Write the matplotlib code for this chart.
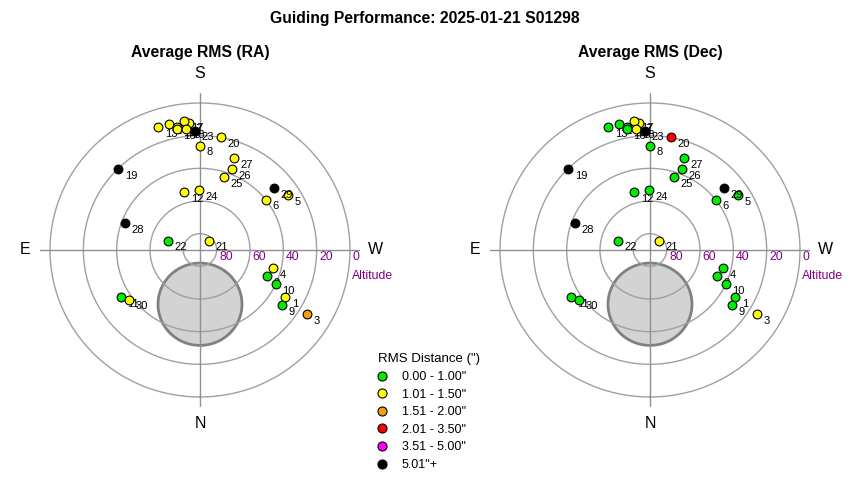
import numpy as np
import matplotlib.pyplot as plt
from matplotlib.lines import Line2D
from matplotlib.patches import Circle

plt.rcParams['font.family'] = ['Liberation Sans', 'DejaVu Sans']

# guiding samples: number, azimuth (deg, N=0, E=90), altitude (deg)
point_ids = list(range(1, 31))
azimuth = [299.5, 291.7, 301.4, 284.3, 237.7, 232.1, 175.3, 180.0, 304.4, 294.7,
           58.6, 165.1, 161.6, 166.4, 169.5, 169.3, 173.2, 173.4, 135.3, 190.2,
           224.4, 106.7, 177.6, 179.3, 198.1, 201.1, 200.1, 109.9, 229.6, 54.2]
altitude = [31.2, 46.5, 14.5, 44.6, 27.3, 39.7, 11.8, 26.2, 30.1, 39.8,
            34.4, 53.3, 10.8, 10.8, 13.2, 14.8, 10.5, 15.4, 20.3, 19.9,
            82.0, 70.1, 16.9, 53.3, 43.1, 37.1, 30.2, 42.1, 31.7, 37.7]

# rms class per point (index into bin_labels)
rms_bin_ra = [1, 0, 2, 1, 1, 1, 1, 1, 0, 0,
              0, 1, 1, 1, 1, 1, 1, 1, 5, 1,
              1, 0, 5, 1, 1, 1, 1, 5, 5, 1]
rms_bin_dec = [0, 0, 1, 0, 0, 0, 1, 0, 0, 0,
               0, 0, 0, 0, 0, 0, 1, 1, 5, 3,
               1, 0, 5, 0, 0, 0, 0, 5, 5, 0]

bin_labels = ['0.00 - 1.00"', '1.01 - 1.50"', '1.51 - 2.00"',
              '2.01 - 3.50"', '3.51 - 5.00"', '5.01"+']
bin_colors = ['#00ee00', '#ffff00', '#f5a000', '#ff0000', '#ff00ff', '#000000']

ring_alts = [0, 20, 40, 60, 80]

# moon position / size (deg)
moon_az = 0.0
moon_alt = 56.8
moon_radius = 25.2

W, H = 850, 480
rmax = 96
px_per_deg = 150 / 90
ax_w = 2 * rmax * px_per_deg
ax_h = ax_w * 0.98

fig = plt.figure(figsize=(W / 100, H / 100), dpi=100)
fig.text(0.5, 1 - 18 / H, 'Guiding Performance: 2025-01-21 S01298',
         ha='center', va='center', fontsize=11.3, fontweight='bold')

panels = [(200, 'Average RMS (RA)', rms_bin_ra),
          (650, 'Average RMS (Dec)', rms_bin_dec)]

for cx, title, bins in panels:
    ax = fig.add_axes([(cx - ax_w / 2) / W, (H - 250 - ax_h / 2) / H, ax_w / W, ax_h / H],
                      projection='polar')
    ax.set_aspect('auto')
    ax.set_theta_zero_location('S')
    ax.set_theta_direction(-1)
    ax.set_ylim(0, rmax)
    ax.grid(False)
    ax.set_xticks([])
    ax.set_yticks([])
    ax.spines['polar'].set_visible(False)

    fig.text(cx / W, 1 - 53 / H, title, ha='center', va='center',
             fontsize=11.3, fontweight='bold')

    # moon disc
    mx, my = ax.transAxes.inverted().transform(
        ax.transData.transform((np.radians(moon_az), 90 - moon_alt)))
    ax.add_patch(Circle((mx, my), moon_radius / (2 * rmax), transform=ax.transAxes,
                        facecolor='#d3d3d3', edgecolor='#808080', lw=2, zorder=1))

    # altitude rings and cross
    th = np.linspace(0, 2 * np.pi, 361)
    for alt in ring_alts:
        ax.plot(th, np.full_like(th, 90 - alt), color='#a0a0a0', lw=1, zorder=2)
        ax.annotate(str(alt), (np.radians(270), 90 - alt), xytext=(1.8, -5.4),
                    textcoords='offset points', ha='left', va='center',
                    color='#800080', fontsize=8.8, zorder=2)
    for a in [0, 90, 180, 270]:
        ax.plot([np.radians(a)] * 2, [0, rmax], color='#909090', lw=1, zorder=2)

    ax.text(1.04, 0.417, 'Altitude', transform=ax.transAxes, ha='center',
            va='center', color='#800080', fontsize=8.8)

    for a, r, letter in [(180, 108, 'S'), (0, 106, 'N'), (90, 105, 'E'), (270, 105, 'W')]:
        ax.text(np.radians(a), r, letter, ha='center', va='center', fontsize=11.5)

    for i, (n, az, alt, b) in enumerate(zip(point_ids, azimuth, altitude, bins)):
        ax.scatter(np.radians(az), 90 - alt, s=40, c=bin_colors[b],
                   edgecolors='black', linewidths=0.8, zorder=3 + 2 * i)
        ax.annotate(str(n), (np.radians(az), 90 - alt), xytext=(4.6, -4.7),
                    textcoords='offset points', ha='left', va='center',
                    fontsize=8, zorder=4 + 2 * i)

handles = [Line2D([], [], ls='none', marker='o', markersize=6.5,
                  markerfacecolor=c, markeredgecolor='black', markeredgewidth=0.8)
           for c in bin_colors]
fig.legend(handles, bin_labels, title='RMS Distance (")', loc='upper left',
           bbox_to_anchor=(372 / W, 1 - 347 / H), frameon=False, fontsize=9,
           title_fontsize=9.5, alignment='left', borderpad=0, handlelength=0.6,
           handletextpad=1.3, labelspacing=0.45)

fig.savefig('out.png', dpi=100)
